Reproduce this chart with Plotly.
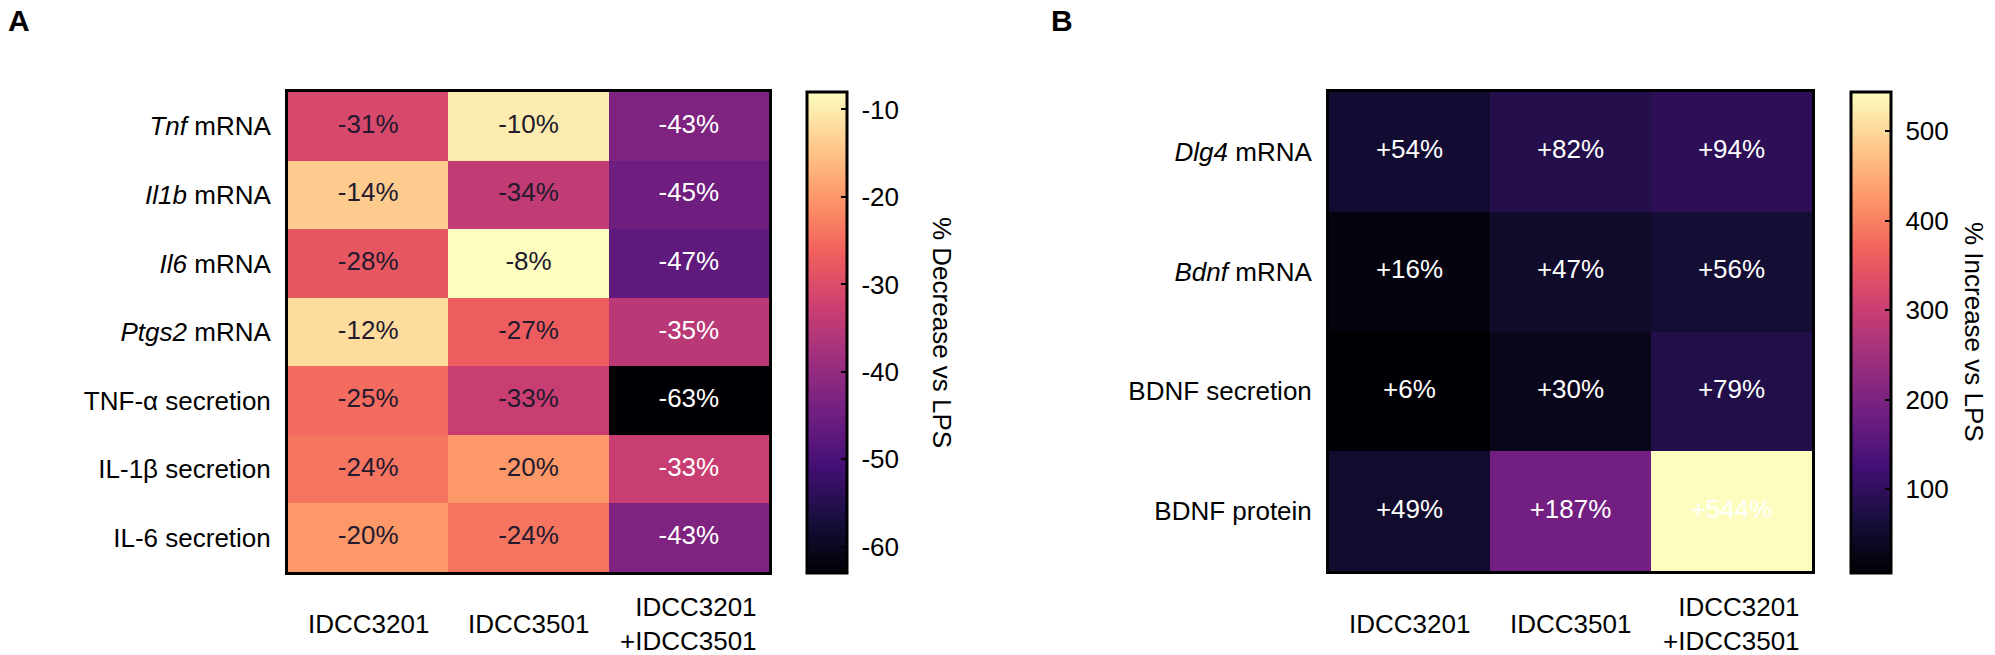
import plotly.graph_objects as go

# ---------------- data ----------------
cols = ["IDCC3201", "IDCC3501", "IDCC3201<br>+IDCC3501"]

rows_a = ["<i>Tnf</i> mRNA", "<i>Il1b</i> mRNA", "<i>Il6</i> mRNA", "<i>Ptgs2</i> mRNA",
          "TNF-α secretion", "IL-1β secretion", "IL-6 secretion"]
vals_a = [[-31, -10, -43],
          [-14, -34, -45],
          [-28, -8, -47],
          [-12, -27, -35],
          [-25, -33, -63],
          [-24, -20, -33],
          [-20, -24, -43]]

rows_b = ["<i>Dlg4</i> mRNA", "<i>Bdnf</i> mRNA", "BDNF secretion", "BDNF protein"]
vals_b = [[54, 82, 94],
          [16, 47, 56],
          [6, 30, 79],
          [49, 187, 544]]

ticks_a = [-10, -20, -30, -40, -50, -60]
ticks_b = [100, 200, 300, 400, 500]
title_a = "% Decrease vs LPS"
title_b = "% Increase vs LPS"

# ---------------- layout helpers ----------------
W, H = 1995, 655
FONT = "Liberation Sans, Arial, sans-serif"
DARK = "#231a2e"
NB = "\u00a0"


def px_x(p):
    return p / W


def px_y(p):
    return 1 - p / H


def cbar(x_left, tickvals):
    return dict(
        x=px_x(x_left), xanchor="left", y=px_y(92), yanchor="top",
        len=(573 - 92) / H, lenmode="fraction", thickness=40,
        xpad=0, ypad=0, outlinewidth=3, outlinecolor="black",
        tickvals=tickvals, ticktext=[NB + str(v) for v in tickvals],
        ticks="inside", ticklen=7, tickwidth=2, tickcolor="black",
        tickfont=dict(family=FONT, size=26, color="black"),
    )


fig = go.Figure()

# panel A heatmap
fig.add_trace(go.Heatmap(
    z=vals_a, x=cols, y=rows_a, colorscale="Magma", zmin=-63, zmax=-8,
    xaxis="x", yaxis="y", hoverinfo="skip", colorbar=cbar(807, ticks_a),
))

# panel A text
tx, ty, tt, tc = [], [], [], []
for i, r in enumerate(rows_a):
    for j, c in enumerate(cols):
        tx.append(c)
        ty.append(r)
        tt.append(f"{vals_a[i][j]}%")
        tc.append("white" if j == 2 else DARK)
fig.add_trace(go.Scatter(x=tx, y=ty, text=tt, mode="text", xaxis="x", yaxis="y",
                         textfont=dict(family=FONT, size=26, color=tc),
                         hoverinfo="skip", showlegend=False))

# panel B heatmap
fig.add_trace(go.Heatmap(
    z=vals_b, x=cols, y=rows_b, colorscale="Magma", zmin=6, zmax=544,
    xaxis="x2", yaxis="y2", hoverinfo="skip", colorbar=cbar(1851, ticks_b),
))

tx, ty, tt = [], [], []
for i, r in enumerate(rows_b):
    for j, c in enumerate(cols):
        tx.append(c)
        ty.append(r)
        tt.append(f"+{vals_b[i][j]}%")
fig.add_trace(go.Scatter(x=tx, y=ty, text=tt, mode="text", xaxis="x2", yaxis="y2",
                         textfont=dict(family=FONT, size=26, color="white"),
                         hoverinfo="skip", showlegend=False))

axis_common = dict(showline=True, linecolor="black", linewidth=3, mirror=True,
                   showgrid=False, zeroline=False, ticks="", fixedrange=True)

fig.update_layout(
    width=W, height=H, margin=dict(l=0, r=0, t=0, b=0),
    paper_bgcolor="white", plot_bgcolor="white", showlegend=False,
    font=dict(family=FONT, color="black"),
    xaxis=dict(domain=[px_x(288), px_x(769)], showticklabels=False, anchor="y", **axis_common),
    yaxis=dict(domain=[px_y(572), px_y(92)], autorange="reversed", anchor="x",
               tickfont=dict(family=FONT, size=26, color="black"), ticklabelstandoff=9,
               **axis_common),
    xaxis2=dict(domain=[px_x(1329), px_x(1812)], showticklabels=False, anchor="y2", **axis_common),
    yaxis2=dict(domain=[px_y(571), px_y(92)], autorange="reversed", anchor="x2",
                tickfont=dict(family=FONT, size=26, color="black"), ticklabelstandoff=9,
                **axis_common),
)

# x labels (category positions through the axes)
for xa in ["x", "x2"]:
    for c in cols:
        fig.add_annotation(x=c, xref=xa, y=px_y(624), yref="paper", text=c,
                           showarrow=False, xanchor="center", yanchor="middle", align="right",
                           font=dict(family=FONT, size=26, color="black"))

# colorbar titles
for xc, t in [(942, title_a), (1974, title_b)]:
    fig.add_annotation(x=px_x(xc), y=px_y(332), xref="paper", yref="paper", text=t,
                       textangle=90, showarrow=False, xanchor="center", yanchor="middle",
                       font=dict(family=FONT, size=26, color="black"))

# panel letters
fig.add_annotation(x=px_x(6), y=px_y(2), xref="paper", yref="paper", text="<b>A</b>",
                   showarrow=False, xanchor="left", yanchor="top",
                   font=dict(family=FONT, size=30, color="black"))
fig.add_annotation(x=px_x(1049), y=px_y(2), xref="paper", yref="paper", text="<b>B</b>",
                   showarrow=False, xanchor="left", yanchor="top",
                   font=dict(family=FONT, size=30, color="black"))

fig.write_html("out.html")
